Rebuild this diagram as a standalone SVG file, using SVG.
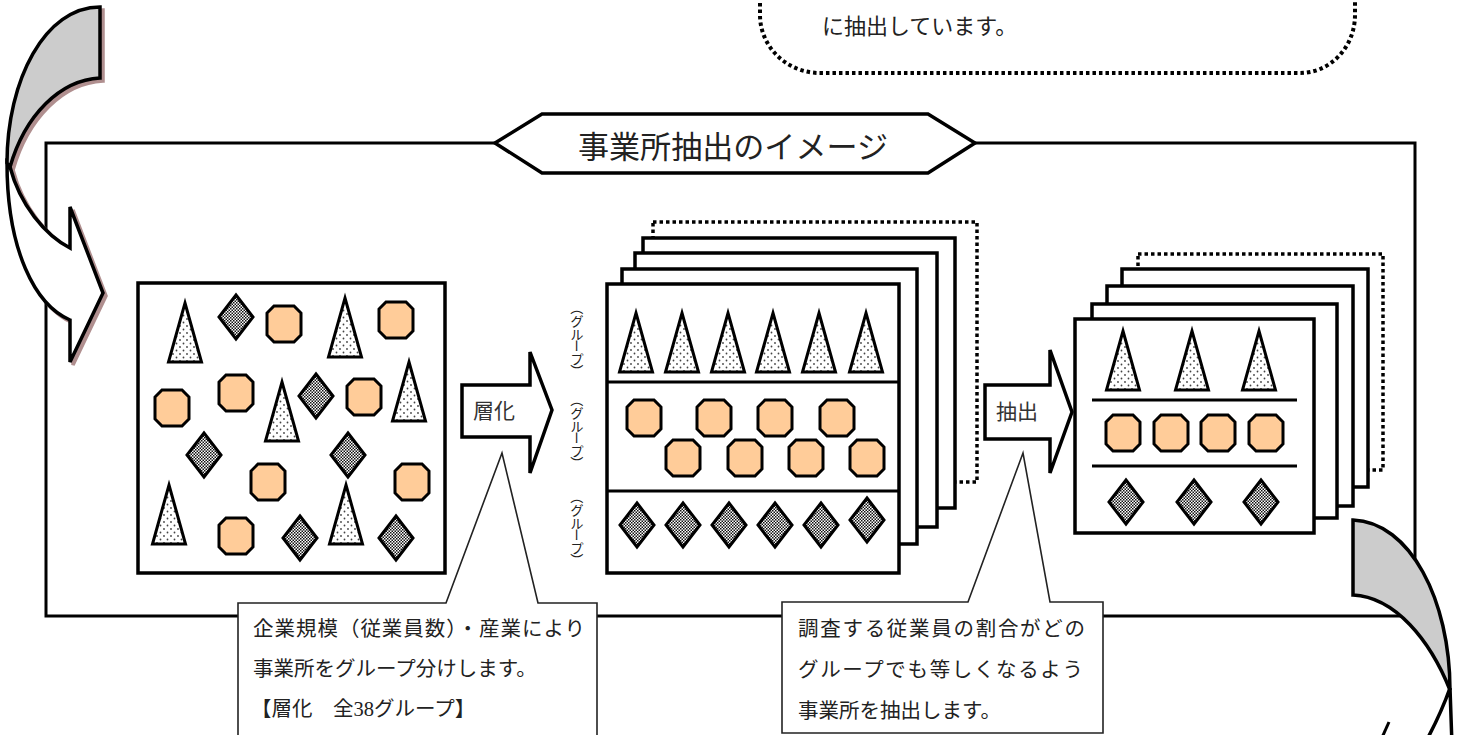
<svg xmlns="http://www.w3.org/2000/svg" width="1464" height="735" viewBox="0 0 1464 735">
<style>
.ln{fill:none;stroke:#000;stroke-width:3}
.box{fill:#fff;stroke:#000;stroke-width:3.5}
.dotbox{fill:#fff;stroke:#000;stroke-width:3.5;stroke-dasharray:3.5 3}
.call{fill:#fff;stroke:#222;stroke-width:1.6}
.jp{font-family:"Liberation Serif","Noto Sans CJK JP",serif;fill:#222}
.cap{font-family:"Noto Sans CJK JP",sans-serif;fill:#333;font-size:21px;text-anchor:middle}
.vl{font-family:"Noto Sans CJK JP",sans-serif;fill:#222;font-size:13px;text-anchor:middle;dominant-baseline:central}
.blk{fill:#fff;stroke:#000;stroke-width:3.5;stroke-linejoin:miter}
.gray{fill:#cccccc;stroke:#000;stroke-width:3.5}
.shadow{fill:#b08f8f;stroke:#b08f8f;stroke-width:3.5}
</style>
<defs>
<pattern id="dots" width="7" height="7" patternUnits="userSpaceOnUse"><rect width="7" height="7" fill="#fff"/><circle cx="2" cy="2" r="0.9" fill="#444"/><circle cx="5.5" cy="5.5" r="0.9" fill="#444"/></pattern>
<pattern id="check" width="3" height="3" patternUnits="userSpaceOnUse"><rect width="3" height="3" fill="#fff"/><rect width="1.5" height="1.5" fill="#111"/><rect x="1.5" y="1.5" width="1.5" height="1.5" fill="#111"/></pattern>
<polygon id="tri" points="0,0 16.5,59 -16.5,59" fill="url(#dots)" stroke="#000" stroke-width="3"/>
<polygon id="dia" points="0,-22 17,0 0,22 -17,0" fill="url(#check)" stroke="#000" stroke-width="3"/>
<polygon id="oct" points="-10,-18 10,-18 17,-11 17,11 10,18 -10,18 -17,11 -17,-11" fill="#ffcc99" stroke="#000" stroke-width="3"/>
<g id="vlabel">
<text class="vl" x="0" y="6.25" transform="rotate(90 0 6.25)">（</text>
<text class="vl" x="0" y="18.75">グ</text>
<text class="vl" x="0" y="31.25">ル</text>
<text class="vl" x="0" y="43.75" transform="rotate(90 0 43.75)">ー</text>
<text class="vl" x="0" y="56.25">プ</text>
<text class="vl" x="0" y="68.75" transform="rotate(90 0 68.75)">）</text>
</g>
</defs>

<g id="frame">
<path class="ln" d="M495,143 L46,143 L46,616 L1415,616 L1415,143 L975,143"/>
</g>

<g id="title">
<polygon class="blk" points="495,143 542,114 928,114 975,143 928,173 542,173"/>
<text class="jp" x="578" y="158" font-size="31" textLength="310" lengthAdjust="spacingAndGlyphs">事業所抽出のイメージ</text>
</g>

<g id="arrow-in">
<g transform="translate(3,3)">
<path class="shadow" d="M7,163 C7,250 35,305 70,320 L70,362 L103,293 L70,207 L70,248 C45,235 20,205 10,167 Z"/>
<path class="shadow" d="M100,7 L100,78 C60,80 25,115 10,167 L7,163 C7,80 45,7 100,7 Z"/>
</g>
<path class="blk" d="M7,163 C7,250 35,305 70,320 L70,362 L103,293 L70,207 L70,248 C45,235 20,205 10,167 Z"/>
<path class="gray" d="M100,7 L100,78 C60,80 25,115 10,167 L7,163 C7,80 45,7 100,7 Z"/>
</g>

<g id="population">
<rect class="box" x="138" y="283" width="307" height="290"/>
<use href="#tri" x="185" y="303"/>
<use href="#tri" x="345" y="298"/>
<use href="#tri" x="282" y="382"/>
<use href="#tri" x="409" y="362"/>
<use href="#tri" x="169" y="485"/>
<use href="#tri" x="346" y="485"/>
<use href="#dia" x="236" y="317"/>
<use href="#dia" x="316" y="396"/>
<use href="#dia" x="204" y="455"/>
<use href="#dia" x="348" y="455"/>
<use href="#dia" x="300" y="538"/>
<use href="#dia" x="396" y="538"/>
<use href="#oct" x="284" y="324"/>
<use href="#oct" x="396" y="320"/>
<use href="#oct" x="172" y="408"/>
<use href="#oct" x="236" y="393"/>
<use href="#oct" x="364" y="397"/>
<use href="#oct" x="268" y="482"/>
<use href="#oct" x="412" y="482"/>
<use href="#oct" x="236" y="536"/>
</g>

<g id="connectors">
<g id="arrow-stratify">
<polygon class="blk" points="462,385 530,385 530,352 552,410 530,473 530,437 462,437"/>
<text class="cap" x="494" y="418">層化</text>
</g>
<g id="arrow-extract">
<polygon class="blk" points="985,385 1050,385 1050,350 1072,412 1050,473 1050,439 985,439"/>
<text class="cap" x="1017" y="419">抽出</text>
</g>
</g>

<g id="strata">
<rect class="dotbox" x="653" y="222" width="324" height="260"/>
<rect class="box" x="643" y="238" width="312" height="270"/>
<rect class="box" x="635" y="253" width="302" height="274"/>
<rect class="box" x="622" y="269" width="295" height="275"/>
<rect class="box" x="607" y="284" width="292" height="289"/>
<line class="ln" x1="607" y1="382" x2="899" y2="382"/>
<line class="ln" x1="607" y1="491" x2="899" y2="491"/>
<use href="#tri" x="636" y="313"/>
<use href="#tri" x="682" y="313"/>
<use href="#tri" x="728" y="313"/>
<use href="#tri" x="773" y="313"/>
<use href="#tri" x="819" y="313"/>
<use href="#tri" x="866" y="313"/>
<use href="#oct" x="644" y="418"/>
<use href="#oct" x="714" y="418"/>
<use href="#oct" x="775" y="418"/>
<use href="#oct" x="837" y="418"/>
<use href="#oct" x="683" y="458"/>
<use href="#oct" x="745" y="458"/>
<use href="#oct" x="806" y="458"/>
<use href="#oct" x="867" y="458"/>
<use href="#dia" x="637" y="525"/>
<use href="#dia" x="683" y="525"/>
<use href="#dia" x="729" y="525"/>
<use href="#dia" x="775" y="525"/>
<use href="#dia" x="821" y="525"/>
<use href="#dia" x="867" y="520"/>
<use href="#vlabel" x="577" y="302"/>
<use href="#vlabel" x="577" y="394"/>
<use href="#vlabel" x="577" y="491"/>
</g>

<g id="sample">
<rect class="dotbox" x="1138" y="254" width="245" height="216"/>
<rect class="box" x="1122" y="269" width="246" height="218"/>
<rect class="box" x="1107" y="286" width="246" height="220"/>
<rect class="box" x="1092" y="304" width="245" height="214"/>
<rect class="box" x="1075" y="319" width="239" height="214"/>
<line class="ln" x1="1092" y1="400" x2="1297" y2="400"/>
<line class="ln" x1="1092" y1="466" x2="1297" y2="466"/>
<use href="#tri" x="1123" y="331"/>
<use href="#tri" x="1192" y="331"/>
<use href="#tri" x="1259" y="331"/>
<use href="#oct" x="1123" y="433"/>
<use href="#oct" x="1171" y="433"/>
<use href="#oct" x="1218" y="433"/>
<use href="#oct" x="1266" y="433"/>
<use href="#dia" x="1126" y="502"/>
<use href="#dia" x="1194" y="502"/>
<use href="#dia" x="1261" y="502"/>
</g>

<g id="note-stratify">
<path class="call" d="M238,603 L446,603 L502,453 L538,603 L597,603 L597,745 L238,745 Z"/>
<text class="jp" x="253" y="636" font-size="20.5" textLength="332">企業規模（従業員数）・産業により</text>
<text class="jp" x="253" y="676" font-size="20.5">事業所をグループ分けします。</text>
<text class="jp" x="251" y="716" font-size="20.5">【層化　全38グループ】</text>
</g>

<g id="note-extract">
<path class="call" d="M782,602 L968,602 L1023,453 L1050,602 L1103,602 L1103,733 L782,733 Z"/>
<text class="jp" x="798" y="636" font-size="20.5" textLength="287">調査する従業員の割合がどの</text>
<text class="jp" x="798" y="677" font-size="20.5" textLength="285">グループでも等しくなるよう</text>
<text class="jp" x="798" y="718" font-size="20.5">事業所を抽出します。</text>
</g>

<g id="arrow-out">
<path class="blk" d="M1450,688 L1452,745 L1424,745 C1435,725 1444,705 1450,688 Z"/>
<path class="gray" d="M1353,520 C1410,522 1450,600 1450,690 C1430,640 1395,597 1353,595 Z"/>
<path class="ln" d="M1380,742 L1389,722"/>
</g>

<g id="note-top">
<path d="M760,-10 L760,15 A60 58 0 0 0 820,73 L1300,73 A55 58 0 0 0 1355,15 L1355,-10" fill="#fff" stroke="#000" stroke-width="4" stroke-dasharray="3.5 3"/>
<text class="jp" x="822" y="34" font-size="22">に抽出しています。</text>
</g>
</svg>
